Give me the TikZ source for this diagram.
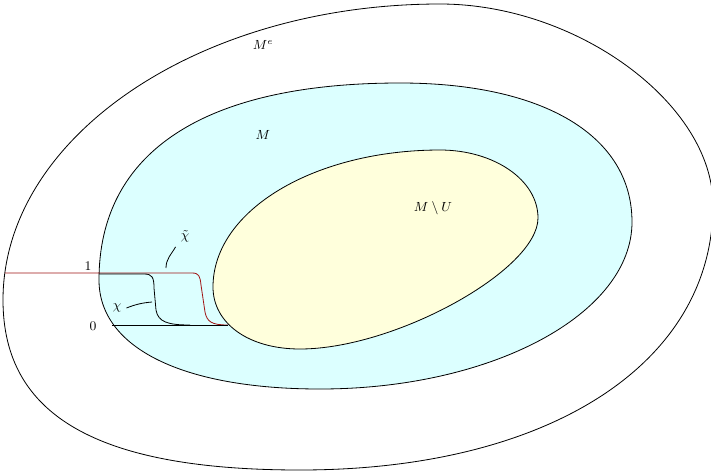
\documentclass[tikz,border=0pt]{standalone}
\usepackage{amsmath,amssymb}
\usetikzlibrary{positioning}
\definecolor{collarcyan}{RGB}{220,255,255}
\definecolor{coreyellow}{RGB}{255,255,220}
\definecolor{cutred}{RGB}{160,20,20}

\begin{document}
\begin{tikzpicture}[
	x=0.68pt, y=-0.68pt,
	every node/.style={font=\small},
	region/.style={draw, line width=0.55pt},
	cutoff/.style={line width=0.55pt},
	pointer/.style={line width=0.55pt}
	]
	\useasboundingbox (0,0) rectangle (711,472);
	
	%--- the three regions ---
	\draw[region] (3,300) .. controls (3,137) and (199,4) .. (440,4)
		.. controls (577,4) and (713,104) .. (713,205)
		.. controls (713,364) and (548,470) .. (300,470)
		.. controls (98,470) and (3,416) .. cycle;
	
	\filldraw[region, fill=collarcyan] (99,280) .. controls (99,152) and (204,83) .. (400,83)
		.. controls (544,83) and (632,136) .. (632,222)
		.. controls (632,314) and (492,389) .. (320,389)
		.. controls (183,389) and (99,348) .. cycle;
	
	\filldraw[region, fill=coreyellow] (213,287) .. controls (213,210) and (315,150) .. (440,150)
		.. controls (494,150) and (538,180) .. (538,218)
		.. controls (538,270) and (395,349) .. (300,349)
		.. controls (248,349) and (213,323) .. cycle;
	
	%--- cut-off functions ---
	\coordinate (redstart) at (5,273);
	\coordinate (redend) at (228,325);
	\draw[cutoff, cutred] (redstart) -- (192,273)
		.. controls (199,273) and (200,276) .. (201,285) -- (205,312)
		.. controls (207,322) and (212,325) .. (redend);
	
	\coordinate (chistart) at (99,274);
	\coordinate (zerostart) at (112,325);
	\draw[cutoff] (chistart) -- (144,274)
		.. controls (152,274) and (154,277) .. (154,288) -- (156,310)
		.. controls (158,322) and (168,325) .. (190,325);
	\draw[cutoff] (zerostart) -- (redend);
	
	%--- labels ---
	\node (Me) at (263,45) {$M^e$};
	\node (M) at (263,135) {$M$};
	\node (MU) at (433,208) {$M\setminus U$};
	\node (one) at (88,266) {$1$};
	\node (zero) at (93,326) {$0$};
	\node (chi) at (117,308) {$\chi$};
	\node (chit) at (185,236) {$\tilde\chi$};
	
	%--- pointers to the curves ---
	\coordinate (chitip) at (152,302);
	\coordinate (chittip) at (166,268);
	\draw[pointer] (chi.east) to[bend left=8] (chitip);
	\draw[pointer] (chit.south west) to[out=240, in=90] (chittip);
	
\end{tikzpicture}
\end{document}
